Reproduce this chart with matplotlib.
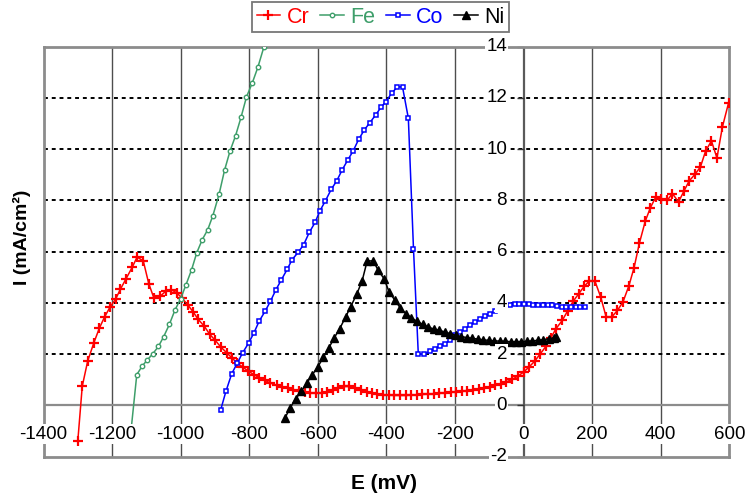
import matplotlib
matplotlib.use("Agg")
import matplotlib.pyplot as plt
import numpy as np

plt.rcParams['font.family'] = ['Liberation Sans', 'DejaVu Sans']

# ---------------- data ----------------
cr_x = [-1300, -1287, -1271, -1253, -1237, -1222, -1206, -1190, -1176, -1159, -1141, -1127,
        -1109, -1093, -1078, -1060, -1044, -1028, -1012, -996, -979, -963, -949, -931, -915,
        -899, -883, -866, -850, -835, -819, -803, -786, -771, -754, -738, -720, -704, -688,
        -671, -655, -638, -622, -606, -589, -573, -557, -540, -524, -508, -491, -475, -458,
        -442, -426, -409, -393, -377, -360, -344, -328, -311, -295, -279, -262, -246, -229,
        -213, -197, -180, -164, -148, -131, -115, -99, -82, -66, -50, -33, -17, 0, 16, 32,
        48, 65, 80, 95, 113, 129, 145, 161, 177, 192, 208, 225, 241, 257, 274, 290, 307,
        322, 338, 355, 370, 386, 402, 419, 434, 452, 468, 483, 500, 516, 531, 548, 564,
        580, 598, 615]
cr_y = [-1.39, 0.75, 1.74, 2.45, 3.02, 3.45, 3.84, 4.14, 4.53, 4.95, 5.40, 5.79,
        5.64, 4.75, 4.19, 4.26, 4.45, 4.52, 4.40, 4.19, 3.92, 3.64, 3.36, 3.09, 2.77,
        2.54, 2.28, 2.06, 1.85, 1.65, 1.50, 1.34, 1.20, 1.08, 0.98, 0.87, 0.79, 0.73, 0.67,
        0.62, 0.57, 0.53, 0.50, 0.48, 0.49, 0.52, 0.60, 0.69, 0.74, 0.74, 0.70, 0.62, 0.54,
        0.48, 0.45, 0.42, 0.40, 0.39, 0.39, 0.39, 0.40, 0.42, 0.43, 0.44, 0.46, 0.47, 0.49,
        0.51, 0.53, 0.56, 0.58, 0.60, 0.64, 0.68, 0.73, 0.78, 0.85, 0.92, 1.02, 1.14, 1.30,
        1.50, 1.72, 2.00, 2.30, 2.65, 3.00, 3.32, 3.70, 4.07, 4.36, 4.65, 4.86, 4.86, 4.23,
        3.45, 3.45, 3.71, 4.04, 4.66, 5.36, 6.34, 7.19, 7.72, 8.14, 8.07, 8.00, 8.27, 7.94,
        8.37, 8.76, 9.02, 9.31, 9.93, 10.32, 9.66, 10.87, 11.81, 11.0]

fe_x = [-1143, -1128, -1112, -1097, -1081, -1065, -1050, -1033, -1017, -1000, -985, -968,
        -953, -937, -921, -906, -888, -872, -856, -840, -824, -808, -791, -775, -757, -748]
fe_y = [-0.75, 1.20, 1.54, 1.78, 2.02, 2.30, 2.67, 3.16, 3.71, 4.17, 4.69, 5.30,
        5.96, 6.47, 6.86, 7.41, 8.24, 9.18, 9.93, 10.52, 11.24, 12.04, 12.59, 13.19, 14.00, 14.35]

co_x = [-883, -868, -851, -835, -819, -802, -786, -771, -754, -738, -722, -706, -689, -675,
        -657, -641, -625, -608, -594, -578, -561, -545, -529, -513, -497, -481, -465, -448,
        -431, -416, -401, -385, -368, -353, -336, -321, -307, -291, -273, -259, -244, -229,
        -215, -200, -186, -171, -156, -142, -127, -113, -98, -84,
        -40, -26, -12, 2, 15, 29, 43, 56, 70, 84, 97, 111, 125, 138, 152, 166, 179]
co_y = [-0.16, 0.55, 1.24, 1.65, 2.06, 2.43, 2.84, 3.29, 3.67, 4.07, 4.52, 4.91, 5.32, 5.69,
        5.98, 6.28, 6.75, 7.14, 7.59, 7.98, 8.43, 8.76, 9.19, 9.57, 9.93, 10.38, 10.74, 11.04,
        11.34, 11.63, 11.86, 12.18, 12.43, 12.43, 11.21, 6.12, 2.02, 1.99, 2.12, 2.21, 2.33, 2.41,
        2.54, 2.73, 2.86, 2.99, 3.13, 3.25, 3.36, 3.48, 3.58, 3.68,
        3.92, 3.94, 3.94, 3.94, 3.94, 3.93, 3.93, 3.92, 3.92, 3.91, 3.87, 3.85, 3.84, 3.84, 3.84, 3.85, 3.86]

ni_x = [-696, -681, -665, -648, -632, -616, -600, -584, -568, -552, -536, -519, -504, -487,
        -471, -456, -438, -424, -407, -392, -375, -359, -343, -327, -310, -294, -278, -262,
        -246, -230, -214, -198, -182, -166, -150, -134, -118, -102, -86, -70, -54, -38, -22,
        -6, 10, 26, 42, 58, 74, 90, 96]
ni_y = [-0.50, -0.10, 0.25, 0.55, 0.88, 1.20, 1.50, 1.88, 2.24, 2.64, 3.00, 3.45, 3.86, 4.33,
        4.85, 5.64, 5.64, 5.27, 4.95, 4.43, 4.10, 3.80, 3.58, 3.41, 3.28, 3.16, 3.06, 2.98,
        2.93, 2.87, 2.80, 2.74, 2.69, 2.65, 2.62, 2.59, 2.56, 2.54, 2.52, 2.51, 2.50, 2.49, 2.49,
        2.49, 2.50, 2.52, 2.54, 2.57, 2.60, 2.63, 2.67]

x_ticks = [-1400, -1200, -1000, -800, -600, -400, -200, 0, 200, 400, 600]
y_ticks = [-2, 0, 2, 4, 6, 8, 10, 12, 14]

# ---------------- figure ----------------
fig = plt.figure(figsize=(7.45, 4.97), dpi=100)
ax = fig.add_axes([0.0584, 0.0811, 0.9205, 0.8250])
ax.set_xlim(-1400, 600)
ax.set_ylim(-2, 14)

# grid
for xv in x_ticks[1:-1]:
    if xv != 0:
        ax.axvline(xv, color='#4d4d4d', lw=1.0, zorder=1)
for yv in y_ticks[2:-1]:
    ax.axhline(yv, color='black', lw=1.4, ls=(0, (2, 2)), zorder=1)
ax.axhline(0, color='#8c8c8c', lw=1.6, zorder=1)
ax.axvline(0, color='#5a5a5a', lw=1.6, zorder=1)

for s in ax.spines.values():
    s.set_color('#8c8c8c')
    s.set_linewidth(2.0)
ax.set_xticks([])
ax.set_yticks([])

# series
l_cr, = ax.plot(cr_x, cr_y, color='red', lw=1.1, marker='+', ms=7, mew=1.6, zorder=3, label='Cr')
l_fe, = ax.plot(fe_x, fe_y, color='#3e9e6a', lw=1.1, marker='o', ms=3.2, mew=1.0, mfc='white',
                markevery=list(range(1, len(fe_x) - 1)), zorder=3, label='Fe')
l_co, = ax.plot(co_x, co_y, color='blue', lw=1.1, marker='s', ms=3.2, mew=1.1, mfc='white',
                zorder=3, label='Co')
l_ni, = ax.plot(ni_x, ni_y, color='black', lw=1.1, marker='^', ms=5.5, zorder=3, label='Ni')

# tick marks
ax.plot([0] * len(y_ticks), y_ticks, ls='none', marker=0, ms=5, mew=1.0, color='#333333',
        zorder=2, clip_on=False)

# tick labels with white background
bb = dict(facecolor='white', edgecolor='none', pad=1.0)
for xv in x_ticks:
    ax.text(xv, -1.12, f"{xv}", ha='center', va='center', fontsize=13.5, color='black',
            bbox=bb, zorder=4, clip_on=False)
for yv in y_ticks:
    ax.text(-48, yv, f"{yv}", ha='right', va='center', fontsize=13.5, color='black',
            bbox=bb, zorder=4, clip_on=False)

fig.text(0.516, 0.028, 'E (mV)', ha='center', va='center', fontsize=15, fontweight='bold')
fig.text(0.030, 0.522, 'I (mA/cm²)', ha='center', va='center', fontsize=14,
         fontweight='bold', rotation=90)

leg = fig.legend(handles=[l_cr, l_fe, l_co, l_ni], loc='upper center',
                 bbox_to_anchor=(0.511, 0.995), ncol=4, fontsize=15.5, numpoints=1,
                 frameon=True, fancybox=False, handlelength=1.1, handletextpad=0.3,
                 columnspacing=0.5, borderpad=0.2, borderaxespad=0)
leg.get_frame().set_edgecolor('#555555')
leg.get_frame().set_linewidth(1.3)
for t, c in zip(leg.get_texts(), ['red', '#3e9e6a', 'blue', 'black']):
    t.set_color(c)

fig.savefig('out.png', dpi=100)
